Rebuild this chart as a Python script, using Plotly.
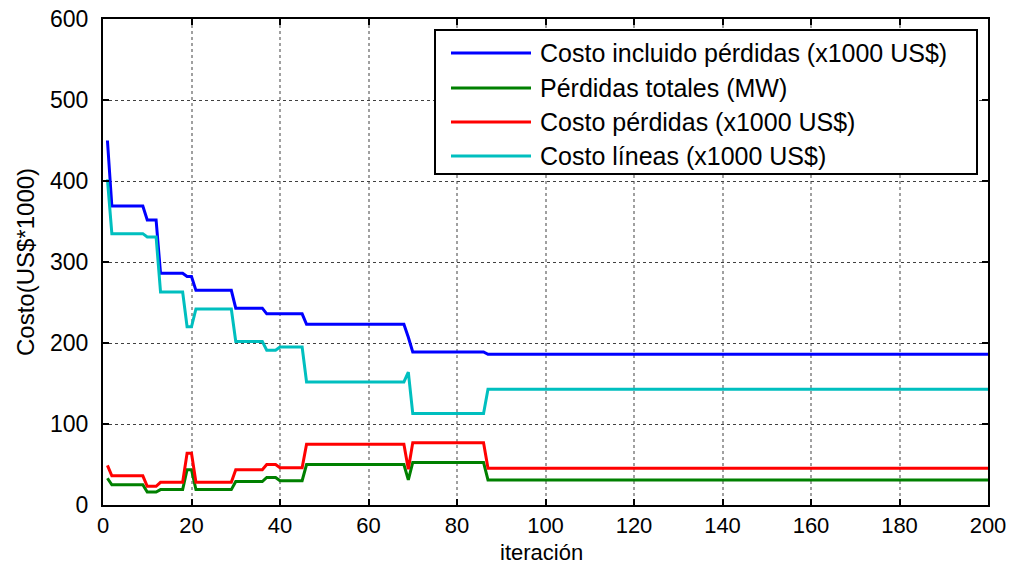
import plotly.graph_objects as go

# Iteration numbers (1..200) and step-wise series, stored as runs:
# each run starts at the given iteration and holds its value until the next run.
n_iter = 200

run_starts = [1, 2, 10, 13, 19, 21, 30, 37, 40, 46, 69, 70, 87]

costo_incluido = [450, 369, 352, 286, 282, 265, 243, 236, 236, 223, 207, 189, 186]
perdidas_totales = [33, 25, 16, 19, 43.5, 19, 29, 34, 30, 50, 31, 52.5, 31]
costo_perdidas = [49, 36, 23, 28, 64, 28, 43.5, 50, 46, 75, 44, 77, 45.5]
costo_lineas = [402, 335, 331, 263, 220, 242, 202, 191, 195, 152, 164, 113, 143]

series_names = [
    "Costo incluido pérdidas (x1000 US$)",
    "Pérdidas totales (MW)",
    "Costo pérdidas (x1000 US$)",
    "Costo líneas (x1000 US$)",
]
series_colors = ["#0000ff", "#008000", "#ff0000", "#00bfbf"]

x_ticks = [0, 20, 40, 60, 80, 100, 120, 140, 160, 180, 200]
y_ticks = [0, 100, 200, 300, 400, 500, 600]


def expand(starts, values, n):
    """Repeat each run value from its start iteration up to the next start."""
    out = []
    bounds = list(starts) + [n + 1]
    for i, v in enumerate(values):
        out.extend([v] * (bounds[i + 1] - bounds[i]))
    return out


iters = list(range(1, n_iter + 1))
series = [costo_incluido, perdidas_totales, costo_perdidas, costo_lineas]

FONT = "Liberation Sans, Arial, Helvetica, sans-serif"

fig = go.Figure()
for name, vals, col in zip(series_names, series, series_colors):
    fig.add_trace(go.Scatter(
        x=iters, y=expand(run_starts, vals, n_iter), mode="lines", name=name,
        line=dict(color=col, width=3), showlegend=False,
    ))

# Plot-area geometry in pixels, used to place the boxed legend and axis titles
W, H = 1010, 566
ML, MR, MT, MB = 103, 22, 19, 61
PW, PH = W - ML - MR, H - MT - MB


def px(x):
    return (x - ML) / PW


def py(y):
    return (H - MB - y) / PH


shapes = [dict(type="rect", xref="paper", yref="paper",
               x0=px(435), x1=px(977), y0=py(174), y1=py(30),
               line=dict(color="black", width=2), fillcolor="white", layer="above")]
annotations = []
row_y = [53, 88, 122, 156]
for name, col, ry in zip(series_names, series_colors, row_y):
    shapes.append(dict(type="line", xref="paper", yref="paper",
                       x0=px(451), x1=px(531), y0=py(ry), y1=py(ry),
                       line=dict(color=col, width=3), layer="above"))
    annotations.append(dict(xref="paper", yref="paper", x=px(538), y=py(ry),
                            text=name, showarrow=False, xanchor="left", yanchor="middle",
                            font=dict(family=FONT, size=25, color="black")))

# Axis titles
annotations.append(dict(xref="paper", yref="paper", x=px(541), y=py(566),
                        text="iteración", showarrow=False,
                        xanchor="center", yanchor="bottom", borderpad=0,
                        font=dict(family=FONT, size=22, color="black")))
annotations.append(dict(xref="paper", yref="paper", x=px(25), y=py(262),
                        text="Costo(US$*1000)", showarrow=False, textangle=-90,
                        xanchor="center", yanchor="middle",
                        font=dict(family=FONT, size=24, color="black")))

axis_common = dict(
    showline=True, linecolor="black", linewidth=2, mirror="ticks",
    ticks="inside", ticklen=6, tickwidth=1.5, tickcolor="black",
    showgrid=True, zeroline=False, automargin=False,
    tickfont=dict(family=FONT, size=22, color="black"),
)

fig.update_layout(
    width=W, height=H,
    margin=dict(l=ML, r=MR, t=MT, b=MB),
    paper_bgcolor="white", plot_bgcolor="white",
    font=dict(family=FONT, color="black"),
    shapes=shapes, annotations=annotations,
    xaxis=dict(
        range=[0, 200], tickvals=x_ticks, ticktext=[str(v) for v in x_ticks],
        gridcolor="#a0a0a0", griddash="dot", gridwidth=1.5,
        ticklabelstandoff=0,
        **axis_common,
    ),
    yaxis=dict(
        range=[0, 600], tickvals=y_ticks, ticktext=[str(v) for v in y_ticks],
        gridcolor="#404040", griddash="dot", gridwidth=1,
        ticklabelstandoff=8,
        tickfont=dict(family=FONT, size=23, color="black"),
        **{k: v for k, v in axis_common.items() if k != "tickfont"},
    ),
)

fig.write_html("out.html")
